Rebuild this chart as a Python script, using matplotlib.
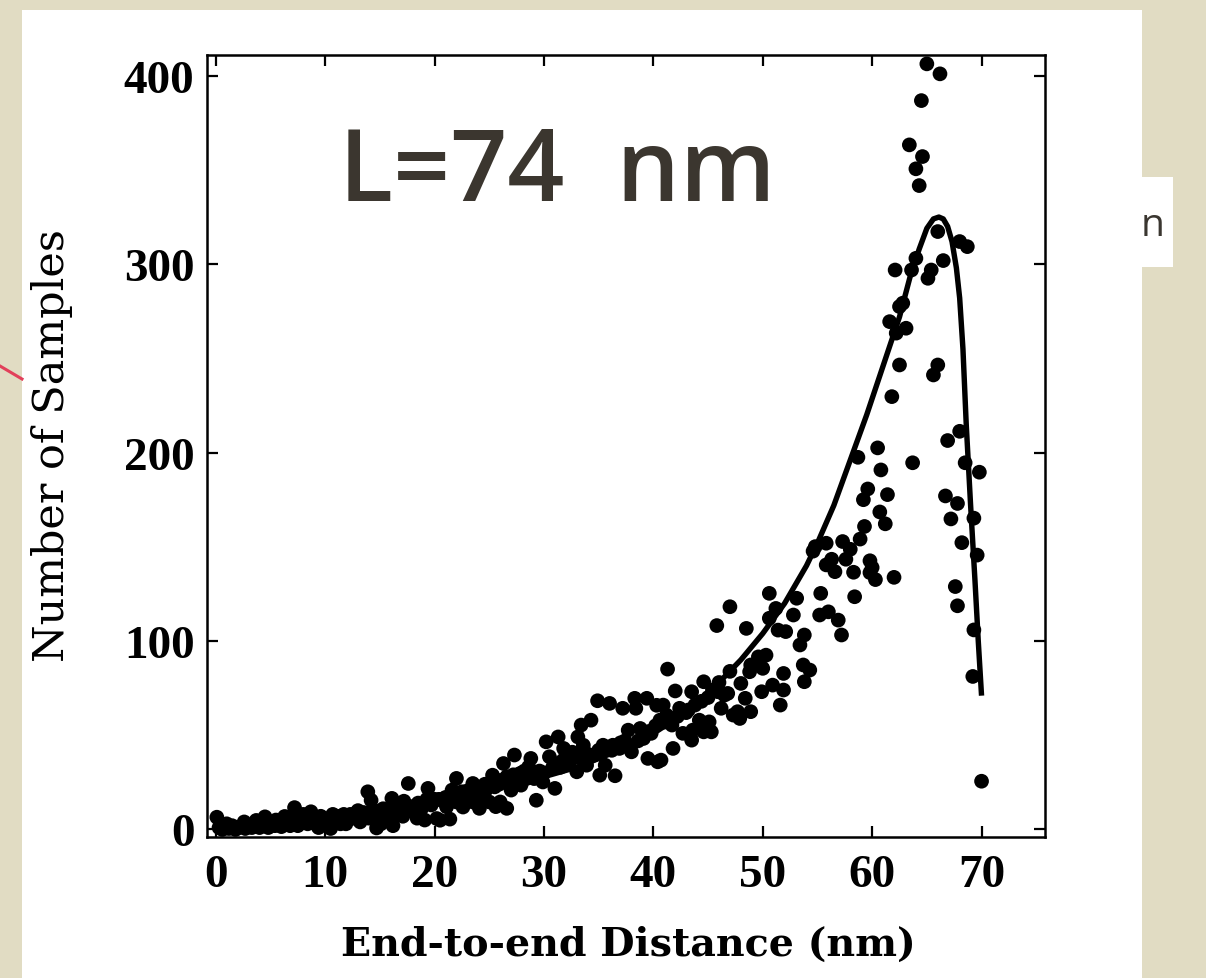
import matplotlib
matplotlib.use("Agg")
import matplotlib.pyplot as plt
from matplotlib.patches import Rectangle
from matplotlib.lines import Line2D

# ---------------- data ----------------
dist_nm = [
    0.1, 0.3, 0.6, 0.9, 1.2, 1.5, 1.8, 2.1, 2.4, 2.7, 3.0, 3.3, 3.7, 3.9, 4.2, 4.5, 4.8, 5.1, 5.4, 5.7,
    6.0, 6.3, 6.6, 6.9, 7.2, 7.5, 7.8, 8.1, 8.4, 8.7, 9.0, 9.3, 9.6, 9.9, 10.2, 10.5, 10.8, 11.1, 11.4, 11.7,
    12.0, 12.3, 12.6, 12.9, 13.2, 13.5, 13.9, 14.2, 14.5, 14.7, 15.0, 15.3, 15.6, 15.9, 16.1, 16.2, 16.5, 16.8, 17.1, 17.4,
    17.6, 17.9, 18.2, 18.5, 18.8, 19.1, 19.4, 19.7, 20.0, 20.2, 20.4, 20.5, 20.8, 21.0, 21.1, 21.4, 21.6, 21.8, 22.0, 22.0,
    22.3, 22.5, 22.6, 22.9, 23.0, 23.2, 23.5, 23.5, 23.8, 24.0, 24.1, 24.4, 24.6, 24.7, 25.0, 25.2, 25.3, 25.5, 25.6, 25.9,
    26.0, 26.0, 26.3, 26.6, 26.6, 26.9, 27.0, 27.2, 27.3, 27.5, 27.8, 27.9, 28.0, 28.2, 28.4, 28.6, 28.8, 29.0, 29.1, 29.3,
    29.6, 29.6, 29.9, 30.0, 30.2, 30.5, 30.8, 31.0, 31.3, 31.5, 31.6, 31.8, 32.0, 32.3, 32.6, 33.0, 33.1, 33.3, 33.4, 33.6,
    33.9, 34.0, 34.3, 34.6, 34.9, 35.0, 35.1, 35.4, 35.6, 36.0, 36.2, 36.3, 36.5, 36.9, 37.0, 37.2, 37.4, 37.7, 38.0, 38.3,
    38.4, 38.6, 38.8, 39.1, 39.4, 39.5, 39.6, 39.8, 40.2, 40.3, 40.4, 40.6, 40.7, 40.9, 41.0, 41.2, 41.3, 41.7, 41.8, 42.0,
    42.2, 42.4, 42.7, 43.0, 43.2, 43.5, 43.5, 43.6, 43.8, 44.2, 44.4, 44.6, 44.6, 45.0, 45.1, 45.3, 45.4, 45.8, 45.9, 46.0,
    46.2, 46.5, 46.8, 47.0, 47.0, 47.3, 47.7, 47.9, 48.0, 48.4, 48.5, 48.8, 48.9, 48.9, 49.6, 49.9, 50.0, 50.3, 50.6, 50.6,
    50.9, 51.2, 51.4, 51.6, 51.9, 51.9, 52.1, 52.8, 53.1, 53.4, 53.7, 53.8, 53.8, 54.3, 54.6, 54.8, 55.2, 55.3, 55.8, 55.8,
    56.0, 56.3, 56.6, 56.9, 57.2, 57.3, 57.6, 58.0, 58.3, 58.4, 58.7, 58.9, 59.2, 59.3, 59.6, 59.8, 59.8, 60.0, 60.3, 60.5,
    60.7, 60.8, 61.2, 61.4, 61.6, 61.8, 62.0, 62.1, 62.2, 62.5, 62.5, 62.8, 63.1, 63.4, 63.6, 63.7, 64.0, 64.0, 64.3, 64.5,
    64.6, 65.0, 65.1, 65.4, 65.6, 66.0, 66.0, 66.2, 66.5, 66.7, 66.9, 67.2, 67.6, 67.8, 67.8, 68.0, 68.0, 68.2, 68.5, 68.7,
    69.2, 69.3, 69.3, 69.6, 69.8, 70.0,
    1.0, 2.6, 4.0, 5.5, 6.8, 8.0, 9.4, 10.7, 11.9, 13.0, 14.0, 15.1, 16.4, 17.2, 18.4, 19.3,
]
counts = [
    6.5, 1, 0, 1, 0.5, 2, 0, 1, 2, 0.5, 2, 1, 4.8, 2, 3, 6.7, 1, 3, 2, 4,
    1.5, 6.9, 3, 5, 11.6, 2, 6, 4, 3, 9.4, 5, 2, 7, 5, 4, 0.5, 6, 7, 3, 8,
    5, 8, 6, 9, 4, 9, 20, 15.5, 10, 0.8, 8, 11, 9, 6, 16.5, 2, 12, 10, 7, 13,
    24.4, 12, 9, 14, 11, 5, 21.8, 13, 16, 5.8, 16, 4.9, 15, 17, 12, 5.5, 20.9, 18, 27.1, 14.6,
    17, 20, 11.9, 18, 20.5, 16, 24.4, 14.6, 19, 22, 11.2, 18.2, 24, 21, 14.6, 25, 28.8, 22.6, 12.1, 24,
    14.6, 26, 35.0, 11.2, 28, 27.1, 20.9, 29, 39.5, 28, 29.7, 23.5, 30, 31, 27, 33.2, 37.7, 29, 27, 15.5,
    30.6, 31, 25.2, 30, 46.5, 38.6, 33, 21.8, 49.1, 33, 36, 43, 39.5, 35, 41, 30.6, 49.1, 38, 55.4, 44.7,
    34.1, 40, 58.0, 39.5, 68.3, 42, 28.8, 44.7, 34.1, 66.9, 42, 44.7, 28.5, 43, 46, 64.3, 47, 52.7, 41.2, 69.6,
    64.3, 47, 53.6, 48.3, 69.6, 37.7, 52, 51, 55, 65.9, 35.9, 58, 36.8, 66.0, 57, 60.7, 85.1, 55.4, 43, 73.5,
    60, 64.3, 51.0, 62, 63.4, 73.1, 47.4, 52.7, 66, 58.0, 68, 78.4, 51.8, 70, 57.1, 51.8, 74, 108.2, 73.1, 78,
    64.3, 71.3, 72.2, 118.2, 83.9, 60.7, 62.5, 58.9, 77.5, 69.6, 106.7, 83.7, 87.3, 62.5, 91.6, 73.1, 85.5, 92.5, 125.3, 112.1,
    76.6, 117.3, 105.8, 66.0, 82.8, 74.0, 105.0, 113.8, 122.7, 97.9, 87.3, 103.2, 78.4, 84.6, 147.7, 150.1, 113.8, 125.3, 151.9, 140.4,
    115.5, 143.4, 136.8, 111.1, 103.2, 152.8, 143.4, 148.7, 136.5, 123.5, 197.5, 154.1, 175.0, 160.8, 180.7, 142.6, 136.3, 139.0, 132.6, 202.5,
    168.5, 190.8, 162.2, 177.7, 269.5, 229.7, 133.8, 296.9, 263.4, 246.5, 277.5, 279.3, 266.0, 363.3, 296.9, 194.6, 303.1, 350.6, 341.7, 386.8,
    357.1, 406.3, 292.5, 296.9, 241.2, 246.5, 317.3, 401.0, 301.9, 177.0, 206.4, 164.8, 128.9, 173.0, 118.7, 211.3, 312.0, 152.2, 194.6, 309.3,
    81.2, 105.9, 165.2, 145.6, 189.6, 25.6,
    3, 4, 1, 5, 2, 8, 1, 8, 3, 10, 6, 3, 8, 15, 6, 16,
]

fit_x = [0, 3, 10, 15, 20, 23, 27, 30, 33, 36, 40, 42.4, 45, 48, 50, 52, 54, 55, 56.5, 58, 59.5, 61,
         62.5, 63.5, 64.3, 65.0, 65.6, 66.1, 66.5, 66.9, 67.3, 67.7, 68.0, 68.3, 68.6, 69.0, 69.4, 69.7, 70.0]
fit_y = [0.5, 3, 8, 12, 16, 19, 24, 28, 33, 40, 51, 60, 72, 90, 104, 120, 140, 152, 172, 196, 220, 246,
         272, 294, 308, 319, 324, 325, 324, 320, 312, 298, 282, 255, 215, 172, 132, 100, 71]

x_ticks = [0, 10, 20, 30, 40, 50, 60, 70]
y_ticks = [0, 100, 200, 300, 400]

# ---------------- figure ----------------
W, H = 1206, 979
fig = plt.figure(figsize=(W / 100, H / 100), dpi=100)
fig.patch.set_facecolor("#e1dcc3")

def px_rect(x0, y0, x1, y1, **kw):
    fig.patches.append(Rectangle((x0 / W, 1 - y1 / H), (x1 - x0) / W, (y1 - y0) / H,
                                 transform=fig.transFigure, figure=fig, **kw))

px_rect(22, 11, 1142, 979, facecolor="white", edgecolor="none", zorder=-5)
px_rect(1142, 178, 1173, 268, facecolor="white", edgecolor="none", zorder=-5)
fig.lines.append(Line2D([0, 22 / W], [1 - 367 / H, 1 - 380 / H], transform=fig.transFigure,
                        color="#e2405a", lw=2.2, figure=fig, zorder=-4))
fig.text(1141 / W, 1 - 226 / H, "n", fontsize=28, color="#3a3630", family="Open Sans",
         ha="left", va="center", zorder=-3)

ax = fig.add_axes([207 / W, 1 - 838 / H, (1045 - 207) / W, (838 - 56) / H], zorder=2)
ax.set_facecolor("white")

ax.scatter(dist_nm, counts, s=112, color="black", edgecolors="none", zorder=3)
ax.plot(fit_x, fit_y, color="black", lw=3.9, zorder=4, solid_capstyle="butt")

ax.set_xlim(-0.8, 75.8)
ax.set_ylim(-4, 411)
ax.set_xticks(x_ticks)
ax.set_yticks(y_ticks)

tick_font = dict(family="Liberation Serif", weight="bold", size=34)
ax.set_xticklabels([str(t) for t in x_ticks], **tick_font)
ax.set_yticklabels([str(t) for t in y_ticks], **tick_font)
ax.tick_params(direction="in", length=8, width=1.6, top=True, right=True, color="black")
ax.tick_params(axis="x", pad=12)
ax.tick_params(axis="y", pad=9)
for sp in ax.spines.values():
    sp.set_linewidth(1.8)

fig.text(628 / W, 1 - 945 / H, "End-to-end Distance (nm)", family="DejaVu Serif",
         weight="bold", size=28.5, ha="center", va="center")
fig.text(52 / W, 1 - 445 / H, "Number of Samples", family="DejaVu Serif",
         size=31, rotation=90, ha="center", va="center")

ax.text(0.418, 0.848, "L=74  nm", transform=ax.transAxes, family="Open Sans", size=72,
        weight="semibold", color="#3b362f", ha="center", va="center", zorder=5)

fig.savefig("out.png", dpi=100, facecolor=fig.get_facecolor())
